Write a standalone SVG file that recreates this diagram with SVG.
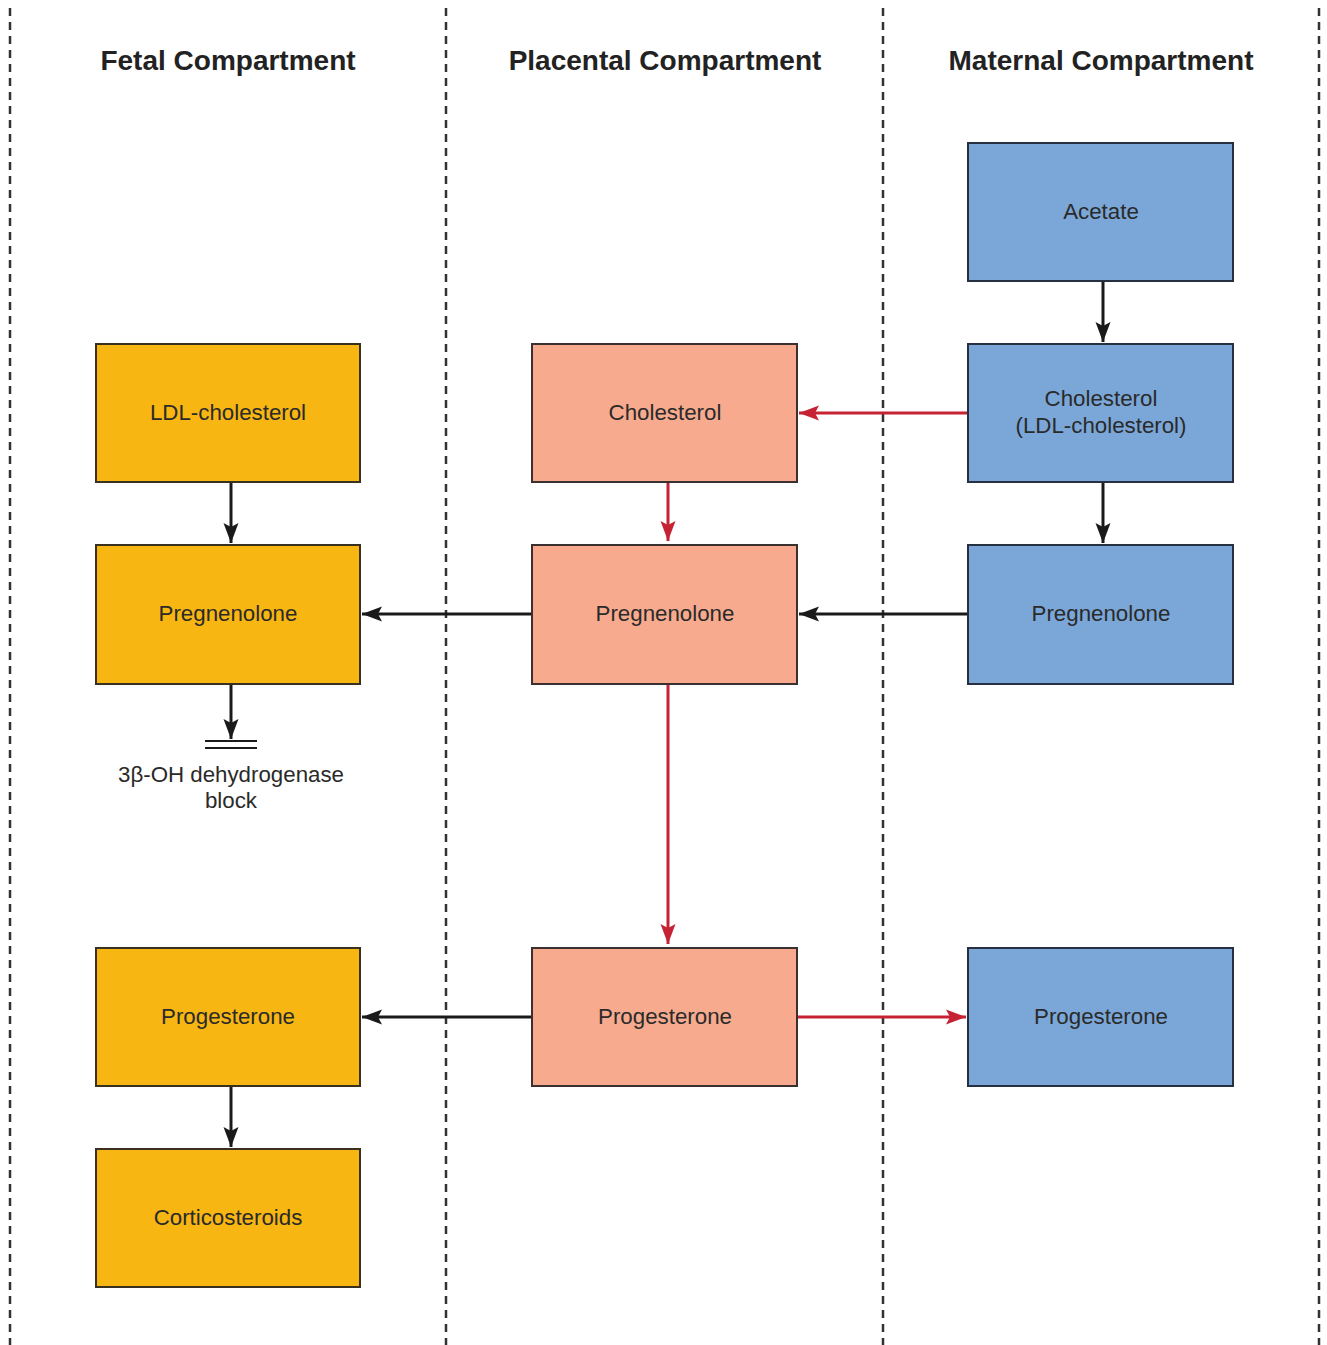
<svg xmlns="http://www.w3.org/2000/svg" width="1327" height="1345" viewBox="0 0 1327 1345">
<style>
.div{stroke:#333;stroke-width:2.5;stroke-dasharray:8 6;fill:none}
.hd{font-family:"Liberation Sans",Arial,sans-serif;font-weight:bold;font-size:28px;fill:#222;text-anchor:middle}
.lb{font-family:"Liberation Sans",Arial,sans-serif;font-size:22.3px;fill:#2a2a2a;text-anchor:middle}
.f{fill:#F8B612;stroke:#3a3020;stroke-width:2}
.p{fill:#F7AA8E;stroke:#3a3030;stroke-width:2}
.m{fill:#7AA7D8;stroke:#263040;stroke-width:2}
.blk{stroke:#1a1a1a;stroke-width:3;fill:none}
.red{stroke:#C62233;stroke-width:3;fill:none}
</style>
<defs>
<marker id="ab" markerUnits="userSpaceOnUse" markerWidth="24" markerHeight="18" refX="20" refY="9" orient="auto"><path d="M0,1.5 L20,9 L0,16.5 L4,9 Z" fill="#1a1a1a"/></marker>
<marker id="ar" markerUnits="userSpaceOnUse" markerWidth="24" markerHeight="18" refX="20" refY="9" orient="auto"><path d="M0,1.5 L20,9 L0,16.5 L4,9 Z" fill="#C62233"/></marker>
</defs>
<rect width="1327" height="1345" fill="#fff"/>
<g id="dividers">
<line class="div" x1="10" y1="8" x2="10" y2="1345"/>
<line class="div" x1="446" y1="8" x2="446" y2="1345"/>
<line class="div" x1="883" y1="8" x2="883" y2="1345"/>
<line class="div" x1="1319" y1="8" x2="1319" y2="1345"/>
</g>
<g id="headings">
<text class="hd" x="228" y="70">Fetal Compartment</text>
<text class="hd" x="665" y="70">Placental Compartment</text>
<text class="hd" x="1101" y="70">Maternal Compartment</text>
</g>
<g id="connectors">
<line class="blk" x1="1103" y1="282" x2="1103" y2="342" marker-end="url(#ab)"/>
<line class="blk" x1="1103" y1="483" x2="1103" y2="543" marker-end="url(#ab)"/>
<line class="red" x1="968" y1="413" x2="799" y2="413" marker-end="url(#ar)"/>
<line class="red" x1="668" y1="483" x2="668" y2="541" marker-end="url(#ar)"/>
<line class="blk" x1="231" y1="483" x2="231" y2="543" marker-end="url(#ab)"/>
<line class="blk" x1="968" y1="614" x2="799" y2="614" marker-end="url(#ab)"/>
<line class="blk" x1="532" y1="614" x2="362" y2="614" marker-end="url(#ab)"/>
<line class="red" x1="668" y1="685" x2="668" y2="944" marker-end="url(#ar)"/>
<line class="blk" x1="231" y1="685" x2="231" y2="739" marker-end="url(#ab)"/>
<line stroke="#1a1a1a" stroke-width="2" x1="205" y1="741" x2="257" y2="741"/>
<line stroke="#1a1a1a" stroke-width="2" x1="205" y1="748" x2="257" y2="748"/>
<line class="blk" x1="532" y1="1017" x2="362" y2="1017" marker-end="url(#ab)"/>
<line class="red" x1="797" y1="1017" x2="966" y2="1017" marker-end="url(#ar)"/>
<line class="blk" x1="231" y1="1087" x2="231" y2="1147" marker-end="url(#ab)"/>
</g>
<g id="n-acetate"><rect class="m" x="968" y="143" width="265" height="138"/><text class="lb" x="1101" y="219">Acetate</text></g>
<g id="n-mat-chol"><rect class="m" x="968" y="344" width="265" height="138"/><text class="lb" x="1101" y="406">Cholesterol</text><text class="lb" x="1101" y="433">(LDL-cholesterol)</text></g>
<g id="n-mat-preg"><rect class="m" x="968" y="545" width="265" height="139"/><text class="lb" x="1101" y="621">Pregnenolone</text></g>
<g id="n-mat-prog"><rect class="m" x="968" y="948" width="265" height="138"/><text class="lb" x="1101" y="1024">Progesterone</text></g>
<g id="n-pla-chol"><rect class="p" x="532" y="344" width="265" height="138"/><text class="lb" x="665" y="420">Cholesterol</text></g>
<g id="n-pla-preg"><rect class="p" x="532" y="545" width="265" height="139"/><text class="lb" x="665" y="621">Pregnenolone</text></g>
<g id="n-pla-prog"><rect class="p" x="532" y="948" width="265" height="138"/><text class="lb" x="665" y="1024">Progesterone</text></g>
<g id="n-fet-ldl"><rect class="f" x="96" y="344" width="264" height="138"/><text class="lb" x="228" y="420">LDL-cholesterol</text></g>
<g id="n-fet-preg"><rect class="f" x="96" y="545" width="264" height="139"/><text class="lb" x="228" y="621">Pregnenolone</text></g>
<g id="n-block"><text class="lb" x="231" y="782">3β-OH dehydrogenase</text><text class="lb" x="231" y="808">block</text></g>
<g id="n-fet-prog"><rect class="f" x="96" y="948" width="264" height="138"/><text class="lb" x="228" y="1024">Progesterone</text></g>
<g id="n-cortico"><rect class="f" x="96" y="1149" width="264" height="138"/><text class="lb" x="228" y="1225">Corticosteroids</text></g>
</svg>
